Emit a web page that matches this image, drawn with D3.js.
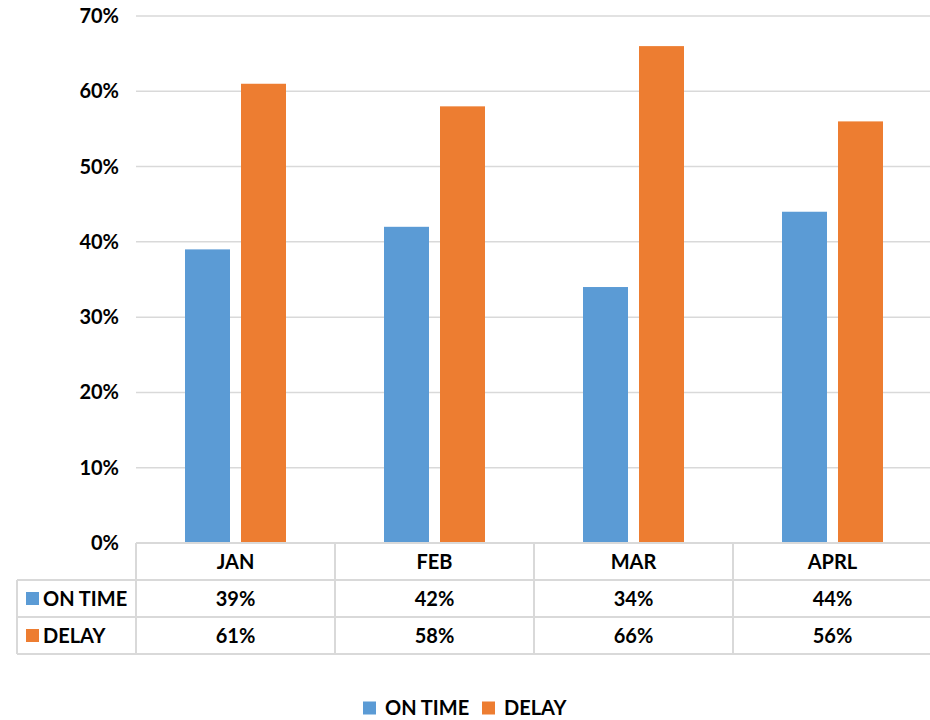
<!DOCTYPE html>
<html>
<head>
<meta charset="utf-8">
<script src="https://cdn.jsdelivr.net/npm/d3@7"></script>
<style>
  body { margin: 0; background: #fff; }
  svg { display: block; font-family: Lato, "Open Sans", sans-serif; font-weight: bold; }
</style>
</head>
<body>
<div id="chart"></div>
<script>
const months = ["JAN", "FEB", "MAR", "APRL"];
const onTime = [0.39, 0.42, 0.34, 0.44];
const delay = [0.61, 0.58, 0.66, 0.56];
const seriesNames = ["ON TIME", "DELAY"];
const colors = ["#5B9BD5", "#ED7D31"];
const yTicks = [0, 0.1, 0.2, 0.3, 0.4, 0.5, 0.6, 0.7];

const width = 930;
const height = 720;
const marginTop = 16;
const marginLeft = 136;
const plotRight = 932;
const plotBottom = 543;
const rowH = 37;
const tableLeft = 17;
const fontSize = 20;

const series = [onTime, delay];

const svg = d3.select("#chart")
    .append("svg")
    .attr("width", width)
    .attr("height", height);

const x = d3.scaleBand()
    .domain(months)
    .range([marginLeft, plotRight]);

// pair of bars inside each month band: 45px bars, 11px gap
const x1 = d3.scaleBand()
    .domain(seriesNames)
    .range([0, 101])
    .paddingInner(11 / 56);

const y = d3.scaleLinear()
    .domain([0, 0.7])
    .range([plotBottom, marginTop]);

// gridlines
svg.append("g")
    .selectAll("line")
    .data(yTicks)
    .enter()
    .append("line")
    .attr("x1", marginLeft)
    .attr("x2", plotRight)
    .attr("y1", d => y(d))
    .attr("y2", d => y(d))
    .attr("stroke", "#d9d9d9")
    .attr("stroke-width", 1.5);

// y axis labels
svg.append("g")
    .selectAll("text")
    .data(yTicks)
    .enter()
    .append("text")
    .attr("x", 119)
    .attr("y", d => y(d))
    .attr("dy", "0.35em")
    .attr("text-anchor", "end")
    .style("font-size", fontSize + "px")
    .text(d => d3.format(".0%")(d));

// bars
const groups = svg.append("g")
    .selectAll("g")
    .data(months)
    .enter()
    .append("g")
    .attr("transform", d => `translate(${x(d) + x.bandwidth() / 2 - 50.5},0)`);

groups.selectAll("rect")
    .data((m, i) => seriesNames.map((s, k) => ({ s, v: series[k][i], c: colors[k] })))
    .enter()
    .append("rect")
    .attr("x", d => x1(d.s))
    .attr("width", x1.bandwidth())
    .attr("y", d => y(d.v))
    .attr("height", d => plotBottom - y(d.v))
    .attr("fill", d => d.c);

// data table
const table = svg.append("g");
const lineColor = "#d9d9d9";
const rowsY = [plotBottom, plotBottom + rowH, plotBottom + 2 * rowH, plotBottom + 3 * rowH];

// horizontal lines
table.append("line")
    .attr("x1", marginLeft).attr("x2", plotRight)
    .attr("y1", rowsY[0]).attr("y2", rowsY[0])
    .attr("stroke", lineColor).attr("stroke-width", 2);
table.selectAll(".hl")
    .data(rowsY.slice(1))
    .enter()
    .append("line")
    .attr("x1", tableLeft).attr("x2", plotRight)
    .attr("y1", d => d).attr("y2", d => d)
    .attr("stroke", lineColor).attr("stroke-width", 2);

// vertical lines
table.append("line")
    .attr("x1", tableLeft).attr("x2", tableLeft)
    .attr("y1", rowsY[1]).attr("y2", rowsY[3])
    .attr("stroke", lineColor).attr("stroke-width", 2);
table.selectAll(".vl")
    .data(months)
    .enter()
    .append("line")
    .attr("x1", d => x(d)).attr("x2", d => x(d))
    .attr("y1", rowsY[0]).attr("y2", rowsY[3])
    .attr("stroke", lineColor).attr("stroke-width", 2);

// month labels
table.selectAll(".ml")
    .data(months)
    .enter()
    .append("text")
    .attr("x", d => x(d) + x.bandwidth() / 2)
    .attr("y", rowsY[0] + rowH / 2)
    .attr("dy", "0.35em")
    .attr("text-anchor", "middle")
    .style("font-size", fontSize + "px")
    .text(d => d);

// series rows
seriesNames.forEach((name, k) => {
    const cy = rowsY[k + 1] + rowH / 2;
    table.append("rect")
        .attr("x", 26)
        .attr("y", cy - 6.5)
        .attr("width", 13)
        .attr("height", 13)
        .attr("fill", colors[k]);
    table.append("text")
        .attr("x", 43)
        .attr("y", cy)
        .attr("dy", "0.35em")
        .style("font-size", fontSize + "px")
        .text(name);
    table.selectAll(".v" + k)
        .data(months)
        .enter()
        .append("text")
        .attr("x", d => x(d) + x.bandwidth() / 2)
        .attr("y", cy)
        .attr("dy", "0.35em")
        .attr("text-anchor", "middle")
        .style("font-size", fontSize + "px")
        .text((d, i) => d3.format(".0%")(series[k][i]));
});

// legend
const legend = svg.append("g").attr("transform", "translate(363,708)");
const legendX = [0, 119];
seriesNames.forEach((name, k) => {
    legend.append("rect")
        .attr("x", legendX[k])
        .attr("y", -6.5)
        .attr("width", 13)
        .attr("height", 13)
        .attr("fill", colors[k]);
    legend.append("text")
        .attr("x", legendX[k] + 22)
        .attr("y", 0)
        .attr("dy", "0.35em")
        .style("font-size", fontSize + "px")
        .text(name);
});
</script>
</body>
</html>
